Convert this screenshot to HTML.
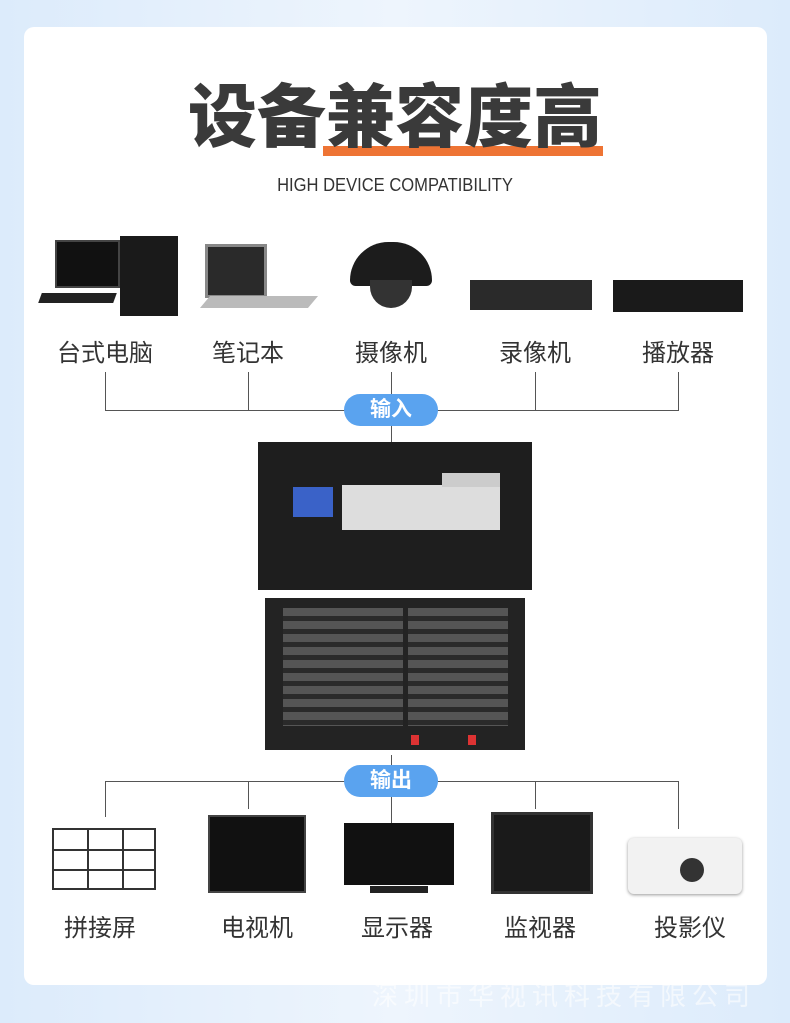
<!DOCTYPE html>
<html><head><meta charset="utf-8"><style>
*{margin:0;padding:0;box-sizing:border-box}
body{width:790px;height:1023px;background:linear-gradient(90deg,#dcebfb,#eef5fd 50%,#dcebfb);position:relative;overflow:hidden;font-family:"Liberation Sans","Noto Sans CJK SC",sans-serif}
.card{position:absolute;left:24px;top:27px;width:743px;height:958px;background:#fff;border-radius:10px}
.a{position:absolute}
.t{position:absolute;font-size:24px;color:#333;text-align:center;width:140px}
.pill{position:absolute;width:94px;height:32px;border-radius:16px;background:#5aa3ef;color:#fff;font-size:21px;text-align:center;line-height:32px;font-weight:bold}
.ln{position:absolute;background:#555}
</style></head><body>
<div class="card"></div>
<div class="a" style="left:323px;top:146px;width:280px;height:10px;background:#ee7434"></div>
<div class="a" style="left:180px;top:78px;width:430px;text-align:center;font-size:69px;font-weight:900;color:#3a3a3a;line-height:80px">设备兼容度高</div>
<div class="a" style="left:195px;top:175px;width:400px;text-align:center;font-size:18px;color:#333;transform:scaleX(0.92)">HIGH DEVICE COMPATIBILITY</div>

<div class="a" style="left:55px;top:240px;width:65px;height:48px;background:#111;border:2px solid #444"></div>
<div class="a" style="left:120px;top:236px;width:58px;height:80px;background:#1a1a1a"></div>
<div class="a" style="left:40px;top:293px;width:75px;height:10px;background:#222;transform:skewX(-20deg)"></div>
<div class="a" style="left:205px;top:244px;width:62px;height:54px;background:#2a2a2a;border:3px solid #888"></div>
<div class="a" style="left:205px;top:296px;width:108px;height:12px;background:#bbb;transform:skewX(-40deg)"></div>
<div class="a" style="left:350px;top:242px;width:82px;height:44px;background:#1c1c1c;border-radius:41px 41px 6px 6px"></div>
<div class="a" style="left:370px;top:280px;width:42px;height:28px;background:#333;border-radius:0 0 21px 21px"></div>
<div class="a" style="left:470px;top:280px;width:122px;height:30px;background:#2a2a2a"></div>
<div class="a" style="left:613px;top:280px;width:130px;height:32px;background:#1a1a1a"></div>
<div class="t" style="left:35px;top:333px">台式电脑</div>
<div class="t" style="left:178px;top:333px">笔记本</div>
<div class="t" style="left:321px;top:333px">摄像机</div>
<div class="t" style="left:465px;top:333px">录像机</div>
<div class="t" style="left:608px;top:333px">播放器</div>
<div class="ln" style="left:105px;top:410px;width:574px;height:1px"></div>
<div class="ln" style="left:105px;top:372px;width:1px;height:38px"></div>
<div class="ln" style="left:248px;top:372px;width:1px;height:38px"></div>
<div class="ln" style="left:391px;top:372px;width:1px;height:70px"></div>
<div class="ln" style="left:535px;top:372px;width:1px;height:38px"></div>
<div class="ln" style="left:678px;top:372px;width:1px;height:38px"></div>
<div class="pill" style="left:344px;top:394px">输入</div>

<div class="a" style="left:258px;top:442px;width:274px;height:148px;background:#1e1e1e"></div>
<div class="a" style="left:293px;top:487px;width:40px;height:30px;background:#3a62c8"></div>
<div class="a" style="left:342px;top:485px;width:158px;height:45px;background:#ddd"></div>
<div class="a" style="left:442px;top:473px;width:58px;height:14px;background:#ccc"></div>
<div class="a" style="left:265px;top:598px;width:260px;height:152px;background:#232323"></div>
<div class="a" style="left:283px;top:608px;width:120px;height:118px;background:repeating-linear-gradient(#555 0 8px,#2a2a2a 8px 13px)"></div>
<div class="a" style="left:408px;top:608px;width:100px;height:118px;background:repeating-linear-gradient(#555 0 8px,#2a2a2a 8px 13px)"></div>
<div class="a" style="left:411px;top:735px;width:8px;height:10px;background:#d33"></div>
<div class="a" style="left:468px;top:735px;width:8px;height:10px;background:#d33"></div>

<div class="ln" style="left:391px;top:755px;width:1px;height:12px"></div>
<div class="ln" style="left:105px;top:781px;width:574px;height:1px"></div>
<div class="ln" style="left:105px;top:781px;width:1px;height:36px"></div>
<div class="ln" style="left:248px;top:781px;width:1px;height:28px"></div>
<div class="ln" style="left:391px;top:797px;width:1px;height:26px"></div>
<div class="ln" style="left:535px;top:781px;width:1px;height:28px"></div>
<div class="ln" style="left:678px;top:781px;width:1px;height:48px"></div>
<div class="pill" style="left:344px;top:765px">输出</div>

<div class="a" style="left:52px;top:828px;width:104px;height:62px;border:2px solid #333;background:linear-gradient(90deg,transparent 33px,#333 33px 35px,transparent 35px 68px,#333 68px 70px,transparent 70px),linear-gradient(transparent 19px,#333 19px 21px,transparent 21px 39px,#333 39px 41px,transparent 41px)"></div>
<div class="a" style="left:208px;top:815px;width:98px;height:78px;background:#111;border:2px solid #444"></div>
<div class="a" style="left:344px;top:823px;width:110px;height:62px;background:#111"></div>
<div class="a" style="left:370px;top:886px;width:58px;height:7px;background:#222"></div>
<div class="a" style="left:491px;top:812px;width:102px;height:82px;background:#1a1a1a;border:3px solid #333"></div>
<div class="a" style="left:628px;top:838px;width:114px;height:56px;background:#f2f2f2;border-radius:6px;box-shadow:0 1px 3px #999"></div>
<div class="a" style="left:680px;top:858px;width:24px;height:24px;background:#333;border-radius:50%"></div>
<div class="t" style="left:30px;top:908px">拼接屏</div>
<div class="t" style="left:187px;top:908px">电视机</div>
<div class="t" style="left:327px;top:908px">显示器</div>
<div class="t" style="left:470px;top:908px">监视器</div>
<div class="t" style="left:620px;top:908px">投影仪</div>
<div class="a" style="left:372px;top:976px;width:420px;font-size:26px;color:#fff;letter-spacing:6px;opacity:.6">深圳市华视讯科技有限公司</div>
</body></html>
